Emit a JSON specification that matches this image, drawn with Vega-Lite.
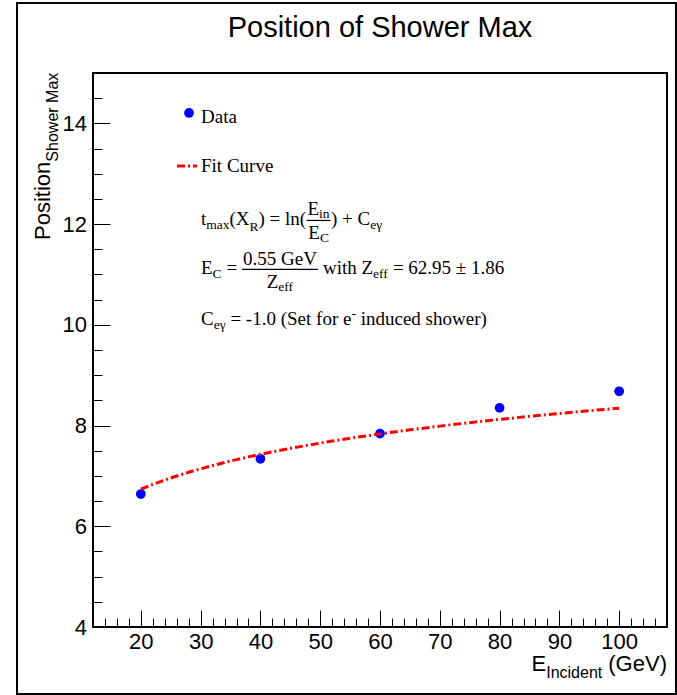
{
  "$schema": "https://vega.github.io/schema/vega-lite/v6.json",
  "width": 574,
  "height": 554,
  "autosize": "none",
  "padding": {"left": 93, "top": 73, "right": 10, "bottom": 68},
  "background": "white",
  "title": {
    "text": "Position of Shower Max",
    "font": "Liberation Sans",
    "fontSize": 29,
    "fontWeight": "normal",
    "color": "black",
    "anchor": "middle",
    "offset": 0,
    "dy": 41
  },
  "config": {
    "view": {"stroke": "black", "strokeWidth": 2},
    "style": {
      "big": {"font": "Liberation Serif", "fontSize": 19, "align": "left", "baseline": "alphabetic", "fill": "black"},
      "small": {"font": "Liberation Serif", "fontSize": 13.5, "align": "left", "baseline": "alphabetic", "fill": "black"},
      "axbig": {"font": "Liberation Sans", "fontSize": 22, "align": "left", "baseline": "alphabetic", "fill": "black"},
      "axsmall": {"font": "Liberation Sans", "fontSize": 16, "align": "left", "baseline": "alphabetic", "fill": "black"}
    }
  },
  "layer": [
    {
      "data": {"values": [
        {"E": 20, "pos": 6.64},
        {"E": 40, "pos": 7.34},
        {"E": 60, "pos": 7.84},
        {"E": 80, "pos": 8.35},
        {"E": 100, "pos": 8.68}
      ]},
      "mark": {"type": "point", "shape": "circle", "filled": true, "color": "#0000ff", "size": 95, "opacity": 1},
      "encoding": {
        "x": {
          "field": "E", "type": "quantitative",
          "scale": {"domain": [12, 108], "nice": false, "zero": false},
          "axis": {
            "title": null, "domain": false, "grid": false, "tickCount": 100,
            "values": [14, 16, 18, 20, 22, 24, 26, 28, 30, 32, 34, 36, 38, 40, 42, 44, 46, 48, 50, 52, 54, 56, 58, 60, 62, 64, 66, 68, 70, 72, 74, 76, 78, 80, 82, 84, 86, 88, 90, 92, 94, 96, 98, 100, 102, 104, 106],
            "tickColor": "black", "tickWidth": 1,
            "tickSize": {"condition": {"test": "datum.value % 10 === 0", "value": -17}, "value": -9},
            "labelExpr": "datum.value % 10 === 0 ? format(datum.value, 'd') : ''",
            "labelFont": "Liberation Sans", "labelFontSize": 22, "labelColor": "black",
            "labelPadding": 21, "labelOverlap": false, "labelFlush": false, "labelBound": false
          }
        },
        "y": {
          "field": "pos", "type": "quantitative",
          "scale": {"domain": [4, 15], "nice": false, "zero": false},
          "axis": {
            "title": null, "domain": false, "grid": false, "tickCount": 100,
            "values": [4, 4.5, 5, 5.5, 6, 6.5, 7, 7.5, 8, 8.5, 9, 9.5, 10, 10.5, 11, 11.5, 12, 12.5, 13, 13.5, 14, 14.5],
            "tickColor": "black", "tickWidth": 1,
            "tickSize": {"condition": {"test": "datum.value % 2 === 0", "value": -17}, "value": -9},
            "labelExpr": "datum.value % 2 === 0 ? format(datum.value, 'd') : ''",
            "labelFont": "Liberation Sans", "labelFontSize": 22, "labelColor": "black",
            "labelPadding": 23.5, "labelOverlap": false, "labelFlush": false, "labelBound": false
          }
        }
      }
    },
    {
      "data": {"values": [
        {"E": 20, "t": 6.7358}, {"E": 22, "t": 6.8311}, {"E": 24, "t": 6.9181}, {"E": 26, "t": 6.9981},
        {"E": 28, "t": 7.0722}, {"E": 30, "t": 7.1412}, {"E": 32, "t": 7.2058}, {"E": 34, "t": 7.2664},
        {"E": 36, "t": 7.3235}, {"E": 38, "t": 7.3776}, {"E": 40, "t": 7.4289}, {"E": 44, "t": 7.5242},
        {"E": 48, "t": 7.6112}, {"E": 52, "t": 7.6913}, {"E": 56, "t": 7.7654}, {"E": 60, "t": 7.8344},
        {"E": 65, "t": 7.9144}, {"E": 70, "t": 7.9885}, {"E": 75, "t": 8.0575}, {"E": 80, "t": 8.1220},
        {"E": 85, "t": 8.1827}, {"E": 90, "t": 8.2398}, {"E": 95, "t": 8.2939}, {"E": 100, "t": 8.3452}
      ]},
      "mark": {"type": "line", "color": "#ff0000", "strokeWidth": 3, "strokeDash": [8, 3, 2, 3]},
      "encoding": {
        "x": {"field": "E", "type": "quantitative"},
        "y": {"field": "t", "type": "quantitative"}
      }
    },

    {"data": {"values": [{"s": "canvas"}]}, "mark": {"type": "rect", "fill": null, "stroke": "black", "strokeWidth": 2},
     "encoding": {"x": {"datum": -0.71, "type": "quantitative"}, "x2": {"datum": 109.5}, "y": {"datum": 16.39, "type": "quantitative"}, "y2": {"datum": 2.67}}},

    {"data": {"values": [{"s": "Data"}]}, "mark": {"type": "point", "shape": "circle", "filled": true, "color": "#0000ff", "size": 95, "opacity": 1},
     "encoding": {"x": {"datum": 28.056, "type": "quantitative"}, "y": {"datum": 14.206, "type": "quantitative"}}},
    {"data": {"values": [{"s": "Data"}]}, "mark": {"type": "text", "style": "big"},
     "encoding": {"x": {"datum": 30.063, "type": "quantitative"}, "y": {"datum": 14.008, "type": "quantitative"}, "text": {"field": "s"}}},
    {"data": {"values": [{"s": "Fit Curve"}]}, "mark": {"type": "rule", "color": "#ff0000", "strokeWidth": 3, "strokeDash": [8, 3, 2, 3]},
     "encoding": {"x": {"datum": 26.049, "type": "quantitative"}, "x2": {"datum": 29.394}, "y": {"datum": 13.154, "type": "quantitative"}}},
    {"data": {"values": [{"s": "Fit Curve"}]}, "mark": {"type": "text", "style": "big"},
     "encoding": {"x": {"datum": 30.063, "type": "quantitative"}, "y": {"datum": 13.025, "type": "quantitative"}, "text": {"field": "s"}}},

    {"data": {"values": [{"s": "t"}]}, "mark": {"type": "text", "style": "big"},
     "encoding": {"x": {"datum": 30.063, "type": "quantitative"}, "y": {"datum": 11.982, "type": "quantitative"}, "text": {"field": "s"}}},
    {"data": {"values": [{"s": "max"}]}, "mark": {"type": "text", "style": "small"},
     "encoding": {"x": {"datum": 30.95, "type": "quantitative"}, "y": {"datum": 11.903, "type": "quantitative"}, "text": {"field": "s"}}},
    {"data": {"values": [{"s": "(X"}]}, "mark": {"type": "text", "style": "big"},
     "encoding": {"x": {"datum": 34.83, "type": "quantitative"}, "y": {"datum": 11.982, "type": "quantitative"}, "text": {"field": "s"}}},
    {"data": {"values": [{"s": "R"}]}, "mark": {"type": "text", "style": "small"},
     "encoding": {"x": {"datum": 38.175, "type": "quantitative"}, "y": {"datum": 11.863, "type": "quantitative"}, "text": {"field": "s"}}},
    {"data": {"values": [{"s": ") = ln("}]}, "mark": {"type": "text", "style": "big"},
     "encoding": {"x": {"datum": 39.68, "type": "quantitative"}, "y": {"datum": 11.982, "type": "quantitative"}, "text": {"field": "s"}}},
    {"data": {"values": [{"s": "E"}]}, "mark": {"type": "text", "style": "big"},
     "encoding": {"x": {"datum": 47.875, "type": "quantitative"}, "y": {"datum": 12.181, "type": "quantitative"}, "text": {"field": "s"}}},
    {"data": {"values": [{"s": "in"}]}, "mark": {"type": "text", "style": "small"},
     "encoding": {"x": {"datum": 49.816, "type": "quantitative"}, "y": {"datum": 12.121, "type": "quantitative"}, "text": {"field": "s"}}},
    {"data": {"values": [{"s": "bar"}]}, "mark": {"type": "rule", "color": "black", "strokeWidth": 1.2},
     "encoding": {"x": {"datum": 47.708, "type": "quantitative"}, "x2": {"datum": 51.722}, "y": {"datum": 12.072, "type": "quantitative"}}},
    {"data": {"values": [{"s": "E"}]}, "mark": {"type": "text", "style": "big"},
     "encoding": {"x": {"datum": 48.01, "type": "quantitative"}, "y": {"datum": 11.704, "type": "quantitative"}, "text": {"field": "s"}}},
    {"data": {"values": [{"s": "C"}]}, "mark": {"type": "text", "style": "small"},
     "encoding": {"x": {"datum": 49.95, "type": "quantitative"}, "y": {"datum": 11.645, "type": "quantitative"}, "text": {"field": "s"}}},
    {"data": {"values": [{"s": ")"}]}, "mark": {"type": "text", "style": "big"},
     "encoding": {"x": {"datum": 51.806, "type": "quantitative"}, "y": {"datum": 11.982, "type": "quantitative"}, "text": {"field": "s"}}},
    {"data": {"values": [{"s": "+ C"}]}, "mark": {"type": "text", "style": "big"},
     "encoding": {"x": {"datum": 53.662, "type": "quantitative"}, "y": {"datum": 11.982, "type": "quantitative"}, "text": {"field": "s"}}},
    {"data": {"values": [{"s": "eγ"}]}, "mark": {"type": "text", "style": "small"},
     "encoding": {"x": {"datum": 58.362, "type": "quantitative"}, "y": {"datum": 11.903, "type": "quantitative"}, "text": {"field": "s"}}},

    {"data": {"values": [{"s": "E"}]}, "mark": {"type": "text", "style": "big"},
     "encoding": {"x": {"datum": 30.063, "type": "quantitative"}, "y": {"datum": 11.009, "type": "quantitative"}, "text": {"field": "s"}}},
    {"data": {"values": [{"s": "C"}]}, "mark": {"type": "text", "style": "small"},
     "encoding": {"x": {"datum": 32.003, "type": "quantitative"}, "y": {"datum": 10.93, "type": "quantitative"}, "text": {"field": "s"}}},
    {"data": {"values": [{"s": "="}]}, "mark": {"type": "text", "style": "big"},
     "encoding": {"x": {"datum": 34.311, "type": "quantitative"}, "y": {"datum": 11.009, "type": "quantitative"}, "text": {"field": "s"}}},
    {"data": {"values": [{"s": "0.55 GeV"}]}, "mark": {"type": "text", "style": "big"},
     "encoding": {"x": {"datum": 37.088, "type": "quantitative"}, "y": {"datum": 11.188, "type": "quantitative"}, "text": {"field": "s"}}},
    {"data": {"values": [{"s": "bar"}]}, "mark": {"type": "rule", "color": "black", "strokeWidth": 1.2},
     "encoding": {"x": {"datum": 36.921, "type": "quantitative"}, "x2": {"datum": 49.632}, "y": {"datum": 11.099, "type": "quantitative"}}},
    {"data": {"values": [{"s": "Z"}]}, "mark": {"type": "text", "style": "big"},
     "encoding": {"x": {"datum": 41.052, "type": "quantitative"}, "y": {"datum": 10.731, "type": "quantitative"}, "text": {"field": "s"}}},
    {"data": {"values": [{"s": "eff"}]}, "mark": {"type": "text", "style": "small"},
     "encoding": {"x": {"datum": 42.992, "type": "quantitative"}, "y": {"datum": 10.672, "type": "quantitative"}, "text": {"field": "s"}}},
    {"data": {"values": [{"s": "with Z"}]}, "mark": {"type": "text", "style": "big"},
     "encoding": {"x": {"datum": 50.468, "type": "quantitative"}, "y": {"datum": 11.009, "type": "quantitative"}, "text": {"field": "s"}}},
    {"data": {"values": [{"s": "eff"}]}, "mark": {"type": "text", "style": "small"},
     "encoding": {"x": {"datum": 58.847, "type": "quantitative"}, "y": {"datum": 10.93, "type": "quantitative"}, "text": {"field": "s"}}},
    {"data": {"values": [{"s": "= 62.95 ± 1.86"}]}, "mark": {"type": "text", "style": "big"},
     "encoding": {"x": {"datum": 62.159, "type": "quantitative"}, "y": {"datum": 11.009, "type": "quantitative"}, "text": {"field": "s"}}},

    {"data": {"values": [{"s": "C"}]}, "mark": {"type": "text", "style": "big"},
     "encoding": {"x": {"datum": 30.063, "type": "quantitative"}, "y": {"datum": 9.997, "type": "quantitative"}, "text": {"field": "s"}}},
    {"data": {"values": [{"s": "eγ"}]}, "mark": {"type": "text", "style": "small"},
     "encoding": {"x": {"datum": 32.187, "type": "quantitative"}, "y": {"datum": 9.917, "type": "quantitative"}, "text": {"field": "s"}}},
    {"data": {"values": [{"s": "= -1.0 (Set for e"}]}, "mark": {"type": "text", "style": "big"},
     "encoding": {"x": {"datum": 34.981, "type": "quantitative"}, "y": {"datum": 9.997, "type": "quantitative"}, "text": {"field": "s"}}},
    {"data": {"values": [{"s": "-"}]}, "mark": {"type": "text", "style": "small"},
     "encoding": {"x": {"datum": 55.218, "type": "quantitative"}, "y": {"datum": 10.136, "type": "quantitative"}, "text": {"field": "s"}}},
    {"data": {"values": [{"s": "induced shower)"}]}, "mark": {"type": "text", "style": "big"},
     "encoding": {"x": {"datum": 56.773, "type": "quantitative"}, "y": {"datum": 9.997, "type": "quantitative"}, "text": {"field": "s"}}},

    {"data": {"values": [{"s": "E"}]}, "mark": {"type": "text", "style": "axbig"},
     "encoding": {"x": {"datum": 85.34, "type": "quantitative"}, "y": {"datum": 3.127, "type": "quantitative"}, "text": {"field": "s"}}},
    {"data": {"values": [{"s": "Incident"}]}, "mark": {"type": "text", "style": "axsmall"},
     "encoding": {"x": {"datum": 87.8, "type": "quantitative"}, "y": {"datum": 2.988, "type": "quantitative"}, "text": {"field": "s"}}},
    {"data": {"values": [{"s": "(GeV)"}]}, "mark": {"type": "text", "style": "axbig"},
     "encoding": {"x": {"datum": 98.18, "type": "quantitative"}, "y": {"datum": 3.127, "type": "quantitative"}, "text": {"field": "s"}}},
    {"data": {"values": [{"s": "Position"}]}, "mark": {"type": "text", "style": "axbig", "angle": 270},
     "encoding": {"x": {"datum": 4.808, "type": "quantitative"}, "y": {"datum": 11.685, "type": "quantitative"}, "text": {"field": "s"}}},
    {"data": {"values": [{"s": "Shower Max"}]}, "mark": {"type": "text", "style": "axsmall", "angle": 270},
     "encoding": {"x": {"datum": 6.063, "type": "quantitative"}, "y": {"datum": 13.24, "type": "quantitative"}, "text": {"field": "s"}}}
  ]
}
